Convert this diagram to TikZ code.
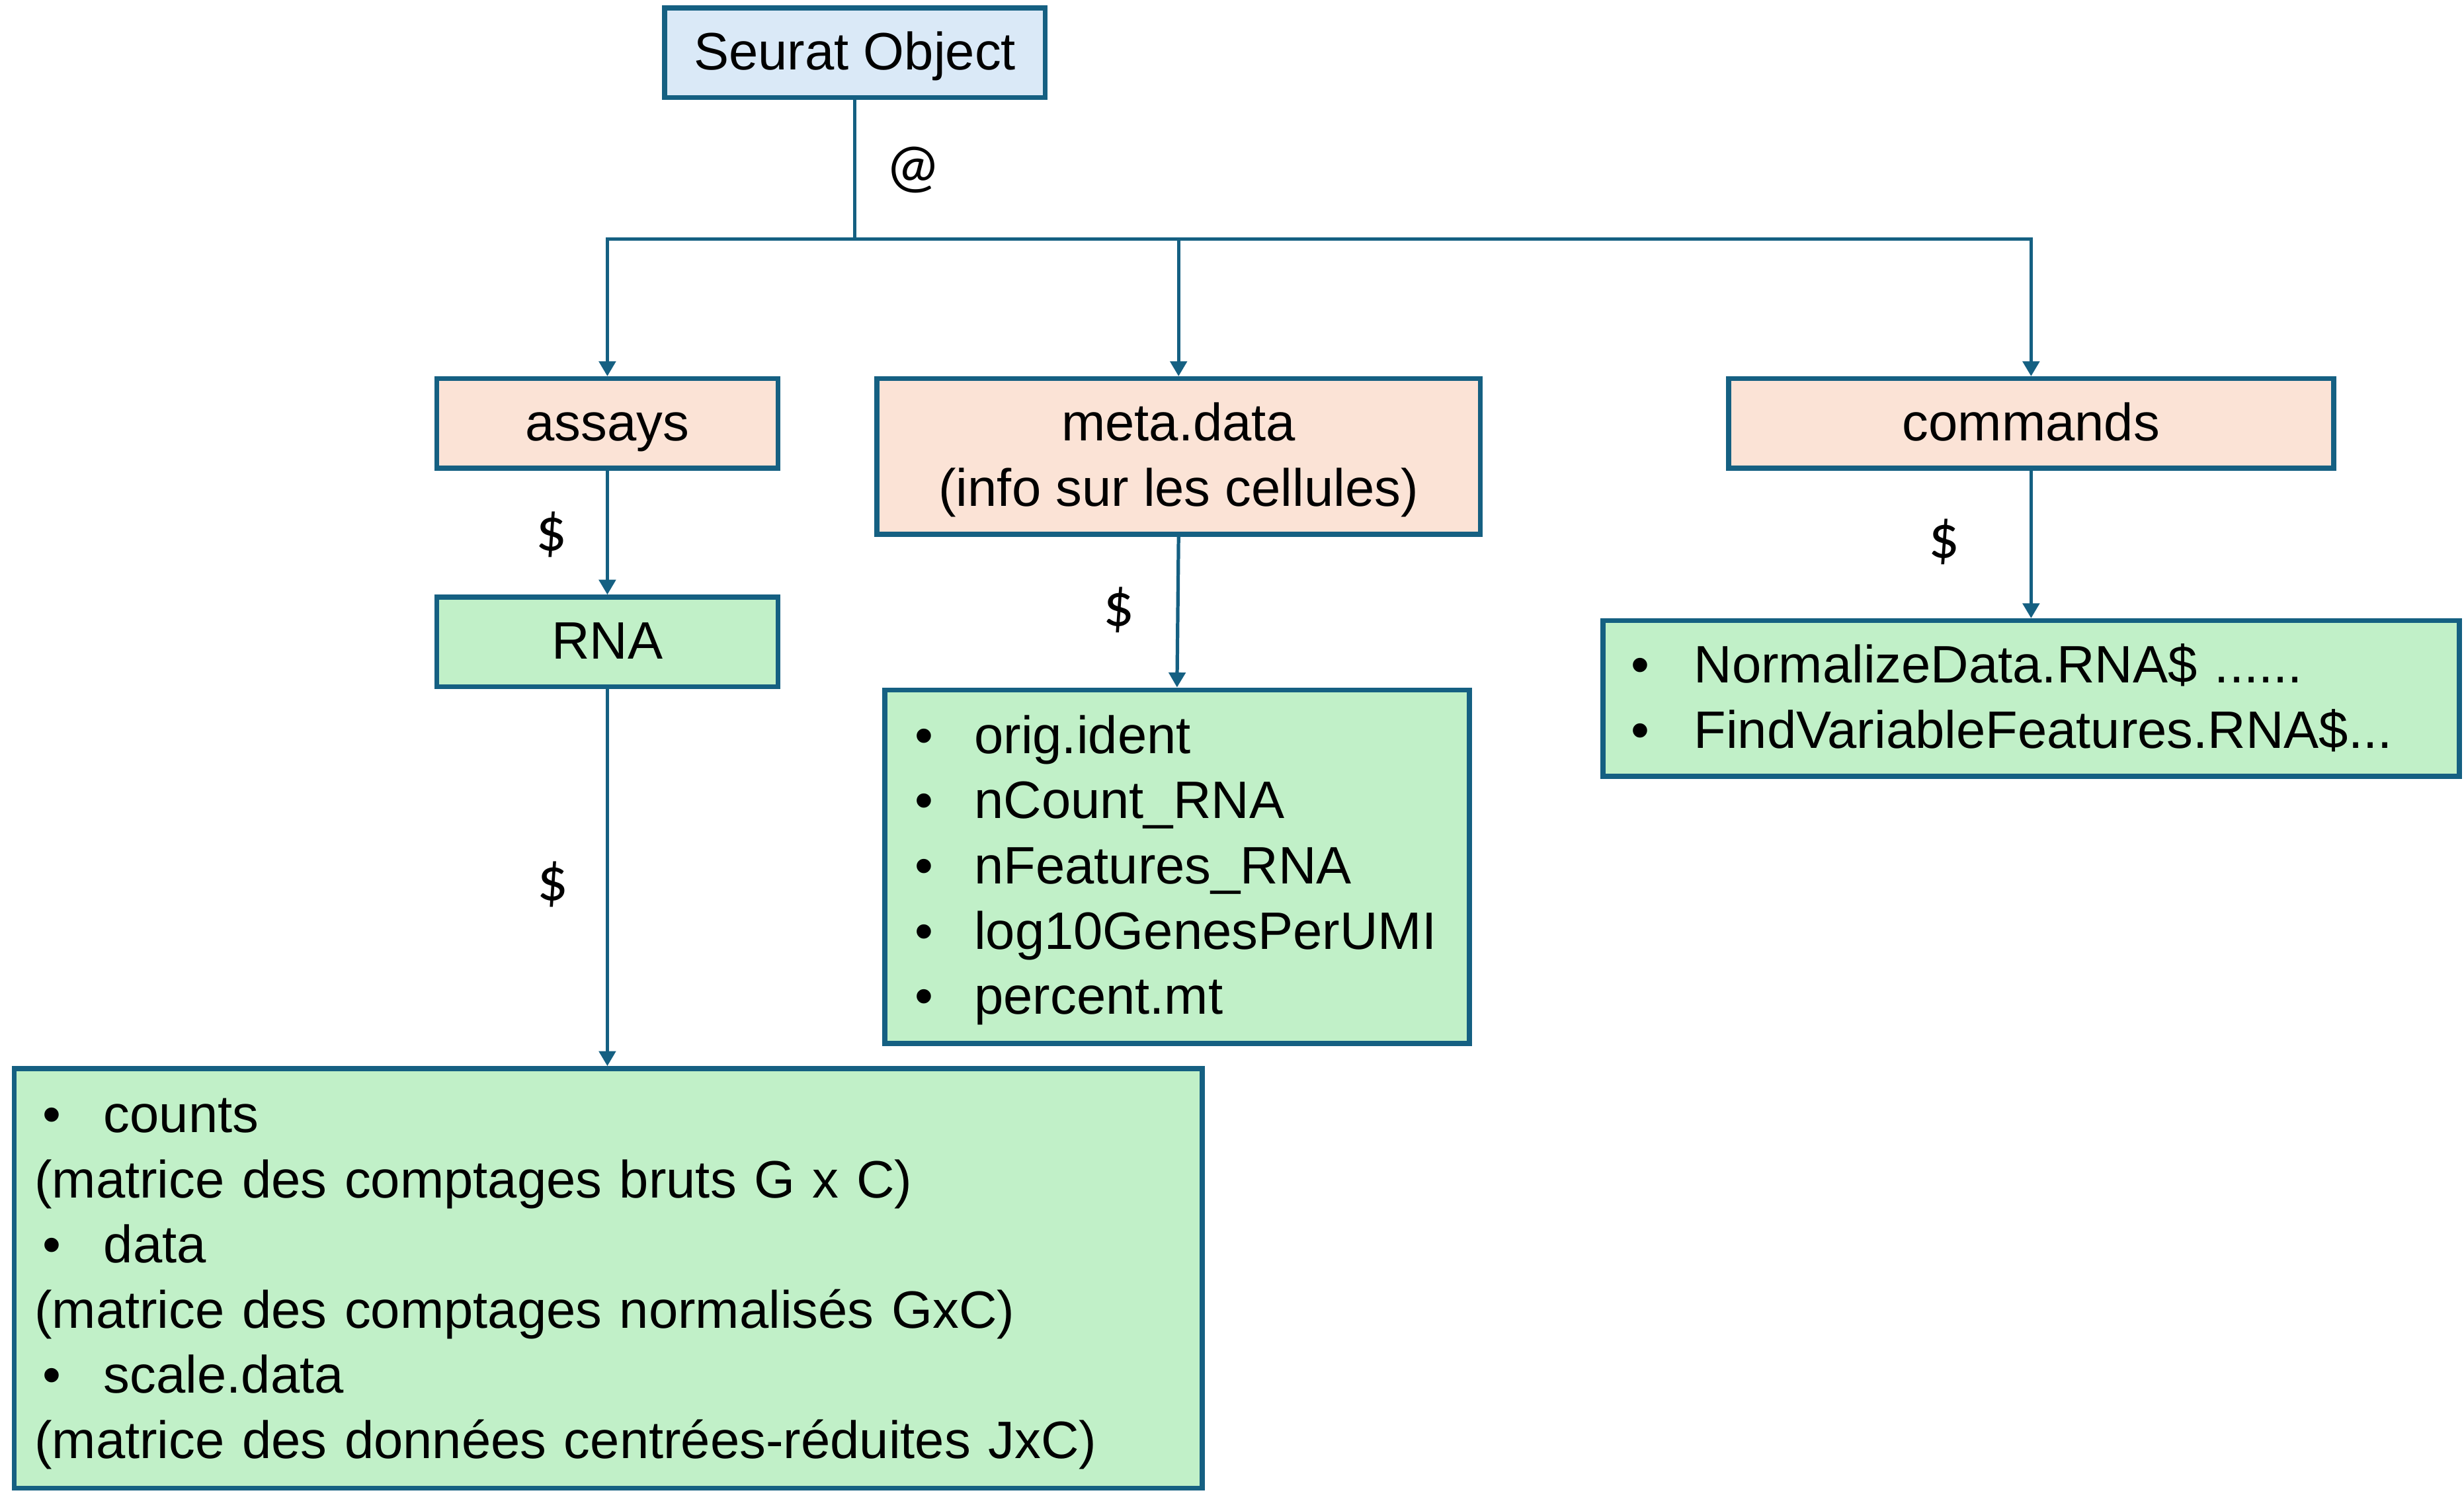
\documentclass[tikz,border=0pt]{standalone}
\usepackage{fontspec}
\setmainfont{Liberation Sans}
\newfontfamily\calib{Carlito}
\usetikzlibrary{arrows.meta,calc}
\definecolor{bordc}{HTML}{156082}
\definecolor{bluef}{HTML}{DAE9F7}
\definecolor{peachf}{HTML}{FBE3D6}
\definecolor{greenf}{HTML}{C1F0C8}
\newcommand\lstrut{\rule[-9.85pt]{0pt}{41.5pt}}
\newcommand\bul[1]{\lstrut\makebox[#1][l]{\textbullet}}
\begin{document}
\begin{tikzpicture}[x=1pt,y=-1pt,
  box/.style={draw=bordc,line width=3.1pt,rectangle,inner sep=0pt,
    font=\fontsize{33.5}{41.5}\selectfont,align=center},
  listbox/.style={box,align=left,anchor=center},
  conn/.style={draw=bordc,line width=2.2pt},
  arr/.style={conn,-{Triangle[length=9.5pt,width=10.5pt]}},
  lab/.style={font=\calib\fontsize{39}{44}\selectfont,inner sep=0pt}]
\useasboundingbox (0,0) rectangle (1568,960);
\node[box,fill=bluef,minimum width=242,minimum height=57] (seurat) at (544,33.5) {\lstrut Seurat Object};
\node[box,fill=peachf,minimum width=217,minimum height=57] (assays) at (386.5,269.5) {\lstrut assays};
\node[box,fill=peachf,minimum width=384,minimum height=99] (meta) at (750,290.5) {\lstrut meta.data\\\lstrut(info sur les cellules)};
\node[box,fill=peachf,minimum width=385,minimum height=57] (commands) at (1292.5,269.5) {\lstrut commands};
\node[box,fill=greenf,minimum width=217,minimum height=57] (rna) at (386.5,408.5) {\lstrut RNA};
\node[listbox,fill=greenf,minimum width=756,minimum height=267,inner xsep=13,text width=730] (counts) at (387,813.5)
 {\hspace*{5pt}\bul{39pt}counts\\
  \lstrut(matrice des comptages bruts G x C)\\
  \hspace*{5pt}\bul{39pt}data\\
  \lstrut(matrice des comptages normalisés GxC)\\
  \hspace*{5pt}\bul{39pt}scale.data\\
  \lstrut(matrice des données centrées-réduites JxC)};
\node[listbox,fill=greenf,minimum width=372,minimum height=225,inner xsep=19,text width=334] (metalist) at (749,551.5)
 {\bul{38pt}orig.ident\\
  \bul{38pt}nCount\_RNA\\
  \bul{38pt}nFeatures\_RNA\\
  \bul{38pt}log10GenesPerUMI\\
  \bul{38pt}percent.mt};
\node[listbox,fill=greenf,minimum width=545,minimum height=99,inner xsep=18,text width=509] (cmdlist) at (1292.5,444.5)
 {\bul{40pt}NormalizeData.RNA\$ ......\\
  \bul{40pt}FindVariableFeatures.RNA\$...};
\coordinate (hub) at (544,152);
\draw[conn] (seurat.south) -- (hub);
\draw[arr] (hub) -| (assays.north);
\draw[arr] (hub) -| (meta.north);
\draw[arr] (hub) -| (commands.north);
\draw[arr] (assays.south) -- (rna.north);
\draw[arr] (rna.south) -- (rna.south |- counts.north);
\draw[arr] (meta.south) -- (metalist.north);
\draw[arr] (commands.south) -- (cmdlist.north);
\node[lab] (at) at (581,108) {@};
\node[lab] (d1) at (351,340) {\$};
\node[lab] (d2) at (352,563) {\$};
\node[lab] (d3) at (712,388) {\$};
\node[lab] (d4) at (1237,345) {\$};
\end{tikzpicture}
\end{document}
